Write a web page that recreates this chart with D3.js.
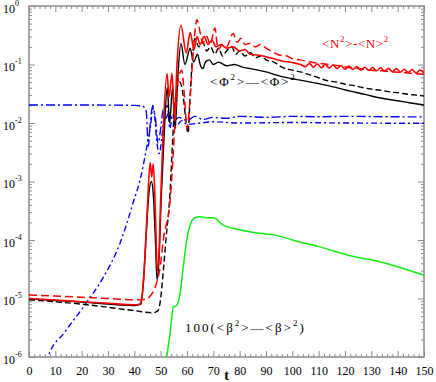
<!DOCTYPE html>
<html>
<head>
<meta charset="utf-8">
<script src="https://cdn.jsdelivr.net/npm/d3@7"></script>
<style>
body { margin: 0; background: #fff; }
svg { display: block; }
.axis path { display: none; }
.axis line { stroke: #8a8a8a; stroke-width: 1; }
.axis text { font-family: "Liberation Serif", "Times New Roman", serif; font-size: 12px; fill: #000; }
.note { font-family: "Liberation Serif", "Times New Roman", serif; font-size: 13px; }
</style>
</head>
<body>
<div id="chart"></div>
<script>
// tick values
const xTicks = [0, 10, 20, 30, 40, 50, 60, 70, 80, 90, 100, 110, 120, 130, 140, 150];
const yExponents = [-6, -5, -4, -3, -2, -1, 0];

// series, [t, value]
const redSolid = [[0, 1.0e-5], [10, 9.4e-6], [20, 8.8e-6], [30, 8.3e-6], [40, 7.8e-6], [42, 8.0e-6], [43, 1.2e-5],
	[44, 5e-5], [45, 4e-4], [46, 2.1e-3], [46.6, 1.2e-3], [47.2, 2.0e-3], [48, 3e-4], [48.7, 3e-5], [49.3, 5e-5],
	[50, 5e-4], [51, 8e-3], [52.4, 0.07], [53.2, 0.028], [54.3, 0.07], [55.3, 0.012], [56.2, 0.1], [57.7, 0.47],
	[59.7, 0.157], [61.2, 0.35], [62.7, 0.18], [63.8, 0.3], [65, 0.22], [66.5, 0.3], [68, 0.22], [69.5, 0.26],
	[71, 0.2], [73, 0.22], [75, 0.19], [77.5, 0.2], [80, 0.17], [82, 0.18], [84, 0.15], [87, 0.145], [90, 0.135],
	[93, 0.125], [96, 0.115], [100, 0.108], [103, 0.1], [105, 0.092], [106.5, 0.104], [108, 0.09], [109.5, 0.102],
	[111, 0.088], [112.5, 0.1], [114, 0.087], [115.5, 0.098], [117, 0.085], [118.5, 0.096], [120, 0.083],
	[121.5, 0.094], [123, 0.082], [124.5, 0.092], [126, 0.08], [127.5, 0.09], [129, 0.079], [130.5, 0.089],
	[132, 0.078], [133.5, 0.088], [135, 0.077], [136.5, 0.086], [138, 0.075], [139.5, 0.085], [141, 0.074],
	[142.5, 0.083], [144, 0.073], [145.5, 0.082], [147, 0.071], [148.5, 0.08], [150, 0.072]];

const redDashed = [[0, 1.15e-5], [10, 1.1e-5], [20, 1.05e-5], [30, 1.0e-5], [40, 9.5e-6], [44, 9.6e-6], [46, 1.1e-5],
	[48, 1.6e-5], [50, 4e-5], [51, 1e-4], [53.6, 4.8e-4], [54.7, 2.6e-3], [55.6, 0.015], [56.8, 0.06], [58, 0.08],
	[59, 0.03], [60, 0.008], [61, 0.02], [62.5, 0.2], [63.8, 0.58], [65, 0.35], [66, 0.23], [67.5, 0.3], [68.8, 0.22],
	[70.6, 0.42], [71.8, 0.18], [73.5, 0.22], [75, 0.2], [77.5, 0.34], [79, 0.24], [80.5, 0.28], [82, 0.22],
	[84, 0.23], [86, 0.2], [88, 0.22], [90, 0.19], [93, 0.16], [95, 0.145], [98, 0.14], [100, 0.125], [103, 0.12],
	[107, 0.11], [110, 0.105], [114, 0.1], [118, 0.095], [122, 0.088], [126, 0.085], [130, 0.08], [134, 0.078],
	[138, 0.075], [142, 0.073], [146, 0.07], [150, 0.068]];

const blackSolid = [[0, 9.8e-6], [20, 8.7e-6], [40, 7.6e-6], [42.5, 8e-6], [43.5, 2e-5], [44.5, 1.2e-4], [45.5, 6e-4],
	[46.5, 1e-3], [47.2, 6e-4], [48, 1e-4], [48.6, 2.1e-5], [49.3, 4e-5], [50.2, 5e-4], [51.3, 6e-3], [52.5, 0.04],
	[53.4, 0.01], [54.5, 0.04], [55.5, 0.008], [56.5, 0.06], [57.7, 0.23], [59.2, 0.1], [61.2, 0.19], [62.5, 0.11],
	[64, 0.15], [65, 0.1], [66, 0.085], [67, 0.11], [68.5, 0.12], [70, 0.1], [72, 0.11], [75, 0.095], [78, 0.1],
	[81, 0.09], [84, 0.085], [87, 0.08], [90, 0.075], [93, 0.068], [96, 0.062], [100, 0.057], [103, 0.054],
	[107, 0.05], [110, 0.047], [113, 0.044], [116, 0.041], [119, 0.038], [122, 0.035], [126, 0.032], [130, 0.029],
	[135, 0.026], [140, 0.024], [145, 0.022], [150, 0.0203]];

const blackDashed = [[0, 9.5e-6], [20, 8e-6], [40, 6.2e-6], [47, 5.7e-6], [49, 6.2e-6], [50, 1e-5], [51, 3e-5],
	[52, 1e-4], [53.6, 7e-4], [54.3, 3e-3], [55, 0.012], [56, 0.035], [57.3, 0.05], [58.5, 0.03], [59.5, 0.012],
	[60.4, 0.0067], [61.2, 0.03], [62.2, 0.15], [63, 0.28], [64.5, 0.2], [66, 0.24], [67.5, 0.17], [69, 0.2],
	[70.5, 0.15], [72, 0.19], [73.5, 0.14], [75, 0.17], [77, 0.2], [78.5, 0.15], [80, 0.17], [82, 0.14], [84, 0.16],
	[86, 0.13], [88, 0.14], [90, 0.12], [93, 0.11], [96, 0.09], [100, 0.08], [103, 0.075], [107, 0.066],
	[110, 0.059], [114, 0.052], [117, 0.05], [120, 0.046], [124, 0.043], [127, 0.04], [130, 0.038], [134, 0.036],
	[137, 0.034], [140, 0.033], [144, 0.031], [147, 0.03], [150, 0.029]];

const blueFlat = [[0, 0.0203], [20, 0.0203], [40, 0.02], [43, 0.0195], [44.5, 0.016], [45.3, 0.004], [46, 0.009],
	[46.8, 0.018], [48, 0.012], [49, 0.0045], [50, 0.008], [51, 0.017], [52, 0.012], [53, 0.015], [55, 0.011],
	[57, 0.0125], [60, 0.011], [63, 0.013], [66, 0.0115], [70, 0.0125], [75, 0.012], [80, 0.013], [90, 0.0125],
	[100, 0.013], [110, 0.0128], [120, 0.013], [135, 0.0128], [150, 0.0127]];

const blueRise = [[6.5, 8e-7], [7.2, 1e-6], [13.7, 2.7e-6], [22, 8.7e-6], [27.7, 2.1e-5], [34.6, 8.9e-5],
	[37.2, 1.95e-4], [39.5, 4.3e-4], [42.2, 1.07e-3], [44, 2.6e-3], [45.2, 5.1e-3], [46.3, 0.01], [47, 0.02],
	[47.8, 0.012], [48.5, 0.005], [49.5, 0.003], [50.5, 0.006], [51.5, 0.015], [52.5, 0.02], [53.5, 0.008],
	[54.5, 0.014], [56, 0.009], [58, 0.011], [60, 0.0095], [65, 0.01], [70, 0.0105], [80, 0.01], [100, 0.0102],
	[120, 0.01], [150, 0.0099]];

const green = [[52, 8e-7], [52.3, 1e-6], [53.6, 2.6e-6], [54.8, 7.2e-6], [56, 7.6e-6], [57.4, 1.25e-5],
	[58.6, 3.5e-5], [59.9, 1e-4], [61.2, 1.8e-4], [63, 2.4e-4], [65, 2.5e-4], [67.6, 2.4e-4], [70, 2.4e-4],
	[73.7, 1.8e-4], [80, 1.5e-4], [87.7, 1.3e-4], [94, 1.2e-4], [100, 1e-4], [110, 7.7e-5], [125, 5e-5],
	[130, 4.6e-5], [140, 3.5e-5], [150, 2.5e-5]];

const width = 436, height = 382;
const margin = {top: 6, right: 12, bottom: 25, left: 29};

const svg = d3.select('#chart').append('svg')
	.attr('width', width)
	.attr('height', height);

const x = d3.scaleLinear().domain([0, 150]).range([margin.left, width - margin.right]);
const y = d3.scaleLog().domain([1e-6, 1]).range([height - margin.bottom, margin.top]);

// minor ticks
const xMinor = d3.range(0, 151, 2).filter(t => t % 10 !== 0);
const yMajor = yExponents.map(e => Math.pow(10, e));
const yMinor = [];
yExponents.slice(0, -1).forEach(e => {
	for (let k = 2; k <= 9; k++) yMinor.push(k * Math.pow(10, e));
});

const bottom = height - margin.bottom, right = width - margin.right;

// axes, ticks pointing inward on all four sides
svg.append('g').attr('class', 'axis')
	.attr('transform', `translate(0,${bottom})`)
	.call(d3.axisBottom(x).tickValues(xTicks).tickSize(-6).tickPadding(9).tickFormat(d3.format('d')));
svg.append('g').attr('class', 'axis')
	.attr('transform', `translate(0,${bottom})`)
	.call(d3.axisBottom(x).tickValues(xMinor).tickSize(-3).tickFormat(''));
svg.append('g').attr('class', 'axis')
	.attr('transform', `translate(0,${margin.top})`)
	.call(d3.axisTop(x).tickValues(xTicks).tickSize(-6).tickFormat(''));
svg.append('g').attr('class', 'axis')
	.attr('transform', `translate(0,${margin.top})`)
	.call(d3.axisTop(x).tickValues(xMinor).tickSize(-3).tickFormat(''));

const yAxis = svg.append('g').attr('class', 'axis')
	.attr('transform', `translate(${margin.left},0)`)
	.call(d3.axisLeft(y).tickValues(yMajor).tickSize(-6).tickFormat(''));
svg.append('g').attr('class', 'axis')
	.attr('transform', `translate(${margin.left},0)`)
	.call(d3.axisLeft(y).tickValues(yMinor).tickSize(-3).tickFormat(''));
svg.append('g').attr('class', 'axis')
	.attr('transform', `translate(${right},0)`)
	.call(d3.axisRight(y).tickValues(yMajor).tickSize(-6).tickFormat(''));
svg.append('g').attr('class', 'axis')
	.attr('transform', `translate(${right},0)`)
	.call(d3.axisRight(y).tickValues(yMinor).tickSize(-3).tickFormat(''));

// y labels as 10 with superscript exponent
yAxis.selectAll('.tick text').each(function(d) {
	const t = d3.select(this).attr('x', null).attr('dy', null)
		.attr('text-anchor', 'start')
		.attr('transform', `translate(${3 - margin.left},6)`);
	t.append('tspan').text('10');
	t.append('tspan').attr('dy', -7).attr('font-size', 8).text(Math.round(Math.log10(d)));
});

// frame
svg.append('rect')
	.attr('x', margin.left).attr('y', margin.top)
	.attr('width', right - margin.left).attr('height', bottom - margin.top)
	.attr('fill', 'none').attr('stroke', '#8a8a8a').attr('stroke-width', 1.5);

svg.append('defs').append('clipPath').attr('id', 'clip')
	.append('rect')
	.attr('x', margin.left).attr('y', margin.top)
	.attr('width', right - margin.left).attr('height', bottom - margin.top);

const line = d3.line()
	.x(d => x(d[0]))
	.y(d => y(d[1]))
	.curve(d3.curveMonotoneX);

const plot = svg.append('g').attr('clip-path', 'url(#clip)');

const series = [
	{data: blueFlat, color: '#0000ff', dash: '9,3,2,3', w: 1.4},
	{data: blueRise, color: '#0000ff', dash: '6,3,2,3', w: 1.4},
	{data: green, color: '#11ee11', dash: null, w: 1.5},
	{data: blackDashed, color: '#000', dash: '6,3', w: 1.4},
	{data: blackSolid, color: '#000', dash: null, w: 1.4},
	{data: redDashed, color: '#ff0000', dash: '8,4', w: 1.5},
	{data: redSolid, color: '#ff0000', dash: null, w: 1.6}
];

plot.selectAll('path.series')
	.data(series)
	.join('path')
	.attr('class', 'series')
	.attr('fill', 'none')
	.attr('stroke', d => d.color)
	.attr('stroke-width', d => d.w)
	.attr('stroke-dasharray', d => d.dash)
	.attr('d', d => line(d.data));

// axis title
svg.append('text')
	.attr('x', (margin.left + right) / 2).attr('y', 380)
	.attr('text-anchor', 'middle')
	.attr('font-family', '"Liberation Serif", serif')
	.attr('font-weight', 'bold')
	.attr('font-size', 14)
	.text('t');

// annotations
function note(px, py, parts, color, spacing) {
	const t = svg.append('text').attr('class', 'note')
		.attr('x', px).attr('y', py).attr('fill', color)
		.attr('letter-spacing', spacing);
	parts.forEach(p => {
		if (p[1]) {
			t.append('tspan').attr('dy', -6).attr('font-size', 9).text(p[0]);
		} else {
			t.append('tspan').attr('dy', p[2] ? 6 : 0).text(p[0]);
		}
	});
}

note(322, 48, [['<N', 0], ['2', 1], ['>-<N>', 0, 1], ['2', 1]], '#ff0000', 0.6);
note(210, 86, [['<Φ', 0], ['2', 1], ['>—<Φ>', 0, 1], ['2', 1]], '#000', 1.8);
note(185, 332, [['100(<β', 0], ['2', 1], ['>—<β>', 0, 1], ['2', 1], [')', 0, 1]], '#000', 2);
</script>
</body>
</html>
